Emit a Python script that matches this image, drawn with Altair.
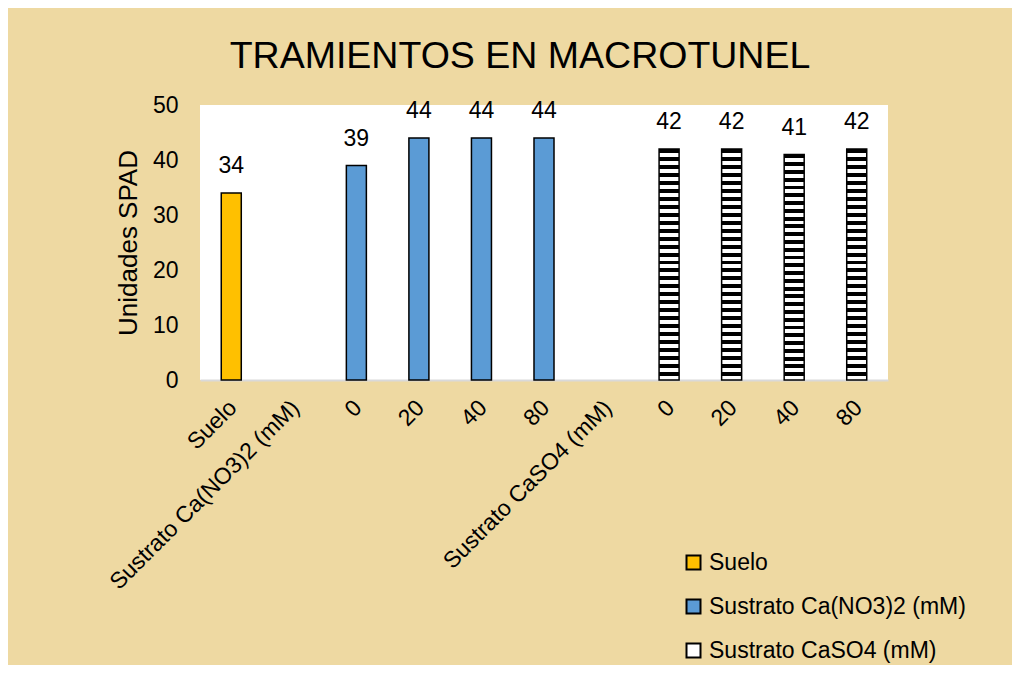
import altair as alt
import pandas as pd

# ---- data ----
categories = ["Suelo", "Sustrato Ca(NO3)2 (mM)", "0", "20", "40", "80",
              "Sustrato CaSO4 (mM)", "0", "20", "40", "80"]
series_names = ["Suelo", "Sustrato Ca(NO3)2 (mM)", "Sustrato CaSO4 (mM)"]

suelo_idx = [0]
suelo_vals = [34]
no3_idx = [2, 3, 4, 5]
no3_vals = [39, 44, 44, 44]
so4_idx = [7, 8, 9, 10]
so4_vals = [42, 42, 41, 42]

rows = []
for i, v in zip(suelo_idx, suelo_vals):
    rows.append({"idx": i, "value": v, "serie": series_names[0]})
for i, v in zip(no3_idx, no3_vals):
    rows.append({"idx": i, "value": v, "serie": series_names[1]})
for i, v in zip(so4_idx, so4_vals):
    rows.append({"idx": i, "value": v, "serie": series_names[2]})
df = pd.DataFrame(rows)

label_expr = "[" + ",".join("'" + c + "'" for c in categories) + "][datum.value]"

# striped fill (horizontal stripes) as a hard-stop gradient
n_stripes = 29
stops = []
for k in range(n_stripes):
    a = k / n_stripes
    m = (k + 0.5) / n_stripes
    b = (k + 1) / n_stripes
    stops += [
        {"offset": a, "color": "#000000"},
        {"offset": m, "color": "#000000"},
        {"offset": m, "color": "#FFFFFF"},
        {"offset": b, "color": "#FFFFFF"},
    ]
stripes = {"gradient": "linear", "x1": 0, "y1": 0, "x2": 0, "y2": 1, "stops": stops}

FONT = "Liberation Sans"

x_enc = alt.X("idx:O",
              scale=alt.Scale(domain=list(range(len(categories))),
                              paddingInner=0.68, paddingOuter=0.34),
              axis=alt.Axis(title=None, labelExpr=label_expr, labelAngle=315,
                            labelFontSize=23, labelColor="#000000", ticks=False,
                            labelPadding=16, labelOffset=-6, labelLimit=0,
                            domainColor="#D9D9D9", domainWidth=2, labelFont=FONT))
y_enc = alt.Y("value:Q",
              scale=alt.Scale(domain=[0, 50]),
              axis=alt.Axis(title="Unidades SPAD", values=[0, 10, 20, 30, 40, 50],
                            grid=False, ticks=False, domain=False,
                            labelFontSize=23, labelColor="#000000", labelPadding=22,
                            titleFontSize=26, titleFontWeight="normal", titleColor="#000000",
                            titlePadding=11, labelFont=FONT, titleFont=FONT))

base = alt.Chart(df)

colored = base.transform_filter(
    alt.datum.serie != series_names[2]
).mark_bar(stroke="#000000", strokeWidth=1.5).encode(
    x=x_enc, y=y_enc,
    fill=alt.Fill("serie:N",
                  scale=alt.Scale(domain=series_names,
                                  range=["#FFC000", "#5B9BD5", "#FFFFFF"]),
                  legend=alt.Legend(title=None, orient="none", legendX=482, legendY=446,
                                    symbolType="square", symbolSize=196,
                                    symbolStrokeColor="#000000", symbolStrokeWidth=2,
                                    labelFontSize=23, labelFont=FONT, labelLimit=0,
                                    labelExpr="datum.label == 'Suelo' ? '\u00a0Suelo' : datum.label",
                                    labelColor="#000000", rowPadding=20, labelOffset=4)),
)

striped = base.transform_filter(
    alt.datum.serie == series_names[2]
).mark_bar(stroke="#000000", strokeWidth=1.5, fill=stripes).encode(
    x=x_enc, y=y_enc,
)

labels = base.mark_text(fontSize=23, font=FONT, color="#000000",
                        baseline="middle", dy=-27).encode(
    x=x_enc, y=y_enc, text=alt.Text("value:Q"),
)

chart = alt.layer(colored, striped, labels).properties(
    width=688, height=275,
    background="#EED9A2",
    padding={"left": 192, "top": 97, "right": 124, "bottom": 285},
    autosize=alt.AutoSizeParams(type="none"),
    title=alt.TitleParams("TRAMIENTOS EN MACROTUNEL", fontSize=37.5, fontWeight="normal",
                          font=FONT, color="#000000", anchor="middle",
                          dx=-24, offset=19),
).configure_view(fill="#FFFFFF", stroke=None)

chart.save("out.html", embed_options={"renderer": "svg", "actions": False})
